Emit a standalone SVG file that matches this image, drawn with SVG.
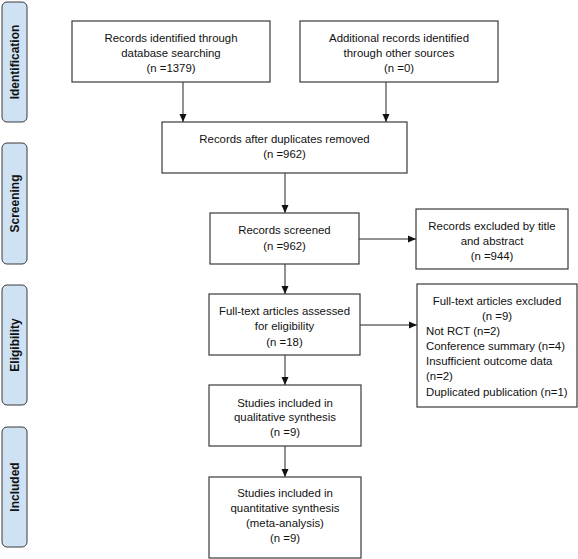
<svg xmlns="http://www.w3.org/2000/svg" width="578" height="559" viewBox="0 0 578 559">
<defs>
<marker id="ah" viewBox="0 0 8 8" refX="8" refY="4" markerWidth="8" markerHeight="8" markerUnits="userSpaceOnUse" orient="auto">
<path d="M0,0.5 L8,4 L0,7.5 Z" fill="#111"/>
</marker>
<style>
.phase rect{fill:#cfe2f3;stroke:#3a3a3a;stroke-width:1}
.phase text{font-family:"Liberation Sans",Arial,sans-serif;font-weight:bold;font-size:12px;fill:#111;text-anchor:middle}
.box rect{fill:#fff;stroke:#3a3a3a;stroke-width:1.2}
.box text{font-family:"Liberation Sans",Arial,sans-serif;font-size:11.4px;fill:#111;text-anchor:middle}
.box text.l{text-anchor:start}
#connectors line{stroke:#222;stroke-width:1;marker-end:url(#ah)}
</style>
</defs>
<rect width="578" height="559" fill="#fff"/>
<g id="phase-identification" class="phase"><rect x="2" y="2" width="25" height="120" rx="5"/><text transform="translate(19,62) rotate(-90)">Identification</text></g>
<g id="phase-screening" class="phase"><rect x="2" y="143" width="25" height="121" rx="5"/><text transform="translate(19,203.5) rotate(-90)">Screening</text></g>
<g id="phase-eligibility" class="phase"><rect x="2" y="285" width="25" height="120" rx="5"/><text transform="translate(19,345) rotate(-90)">Eligibility</text></g>
<g id="phase-included" class="phase"><rect x="2" y="427" width="25" height="120" rx="5"/><text transform="translate(19,487) rotate(-90)">Included</text></g>

<g id="connectors">
<line x1="183" y1="82" x2="183" y2="122"/>
<line x1="386" y1="82" x2="386" y2="122"/>
<line x1="285" y1="173" x2="285" y2="213"/>
<line x1="359" y1="239" x2="416" y2="239"/>
<line x1="285" y1="264" x2="285" y2="294"/>
<line x1="360" y1="325" x2="417" y2="325"/>
<line x1="285" y1="355" x2="285" y2="385"/>
<line x1="285" y1="446" x2="285" y2="477"/>
</g>

<g id="n-database" class="box"><rect x="72" y="21" width="198" height="61"/>
<text x="171" y="42">Records identified through</text><text x="171" y="57">database searching</text><text x="171" y="72">(n =1379)</text></g>
<g id="n-other" class="box"><rect x="300" y="21" width="198" height="61"/>
<text x="399" y="42">Additional records identified</text><text x="399" y="57">through other sources</text><text x="399" y="72">(n =0)</text></g>
<g id="n-dedup" class="box"><rect x="162" y="122" width="245" height="51"/>
<text x="284.5" y="143">Records after duplicates removed</text><text x="284.5" y="158">(n =962)</text></g>
<g id="n-screened" class="box"><rect x="210" y="213" width="149" height="51"/>
<text x="284.5" y="234">Records screened</text><text x="284.5" y="250">(n =962)</text></g>
<g id="n-excl-title" class="box"><rect x="416" y="209" width="152" height="60"/>
<text x="492" y="230">Records excluded by title</text><text x="492" y="245">and abstract</text><text x="492" y="260">(n =944)</text></g>
<g id="n-fulltext" class="box"><rect x="209" y="294" width="151" height="61"/>
<text x="284.5" y="315">Full-text articles assessed</text><text x="284.5" y="330">for eligibility</text><text x="284.5" y="346">(n =18)</text></g>
<g id="n-excl-full" class="box"><rect x="417" y="284" width="160" height="123"/>
<text x="497" y="305">Full-text articles excluded</text><text x="497" y="320">(n =9)</text>
<text class="l" x="426" y="335">Not RCT (n=2)</text><text class="l" x="426" y="350">Conference summary (n=4)</text><text class="l" x="426" y="365">Insufficient outcome data</text><text class="l" x="426" y="380">(n=2)</text><text class="l" x="426" y="396">Duplicated publication (n=1)</text></g>
<g id="n-qual" class="box"><rect x="209" y="385" width="152" height="61"/>
<text x="285" y="407">Studies included in</text><text x="285" y="421">qualitative synthesis</text><text x="285" y="436">(n =9)</text></g>
<g id="n-quant" class="box"><rect x="209" y="477" width="152" height="81"/>
<text x="285" y="497">Studies included in</text><text x="285" y="512">quantitative synthesis</text><text x="285" y="527">(meta-analysis)</text><text x="285" y="542">(n =9)</text></g>
</svg>
